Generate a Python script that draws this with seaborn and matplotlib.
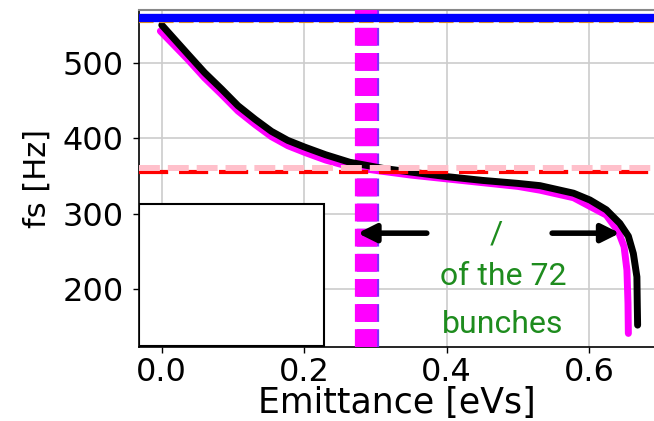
import matplotlib
matplotlib.use("Agg")
import matplotlib.pyplot as plt
from matplotlib.patches import Rectangle
import seaborn as sns
import pandas as pd

# ---- data ----
black_x = [0.0, 0.037, 0.06, 0.084, 0.107, 0.131, 0.154, 0.177, 0.201, 0.23, 0.264, 0.31,
           0.35, 0.4, 0.45, 0.5, 0.531, 0.578, 0.601, 0.624, 0.643, 0.655, 0.662, 0.667, 0.6675, 0.668]
black_y = [550, 511, 487, 465, 443, 425, 409, 397, 388, 378, 368, 360,
           355, 349, 344, 340, 337, 327, 318, 305, 287, 270, 247, 216, 181, 152]
mag_x = [-0.002, 0.037, 0.06, 0.084, 0.107, 0.131, 0.154, 0.177, 0.201, 0.23, 0.264, 0.31,
         0.35, 0.4, 0.45, 0.5, 0.531, 0.578, 0.624, 0.641, 0.649, 0.653, 0.6545, 0.655]
mag_y = [542, 504, 480, 458, 436, 418, 402, 390, 381, 371, 362, 356,
         351, 346, 341, 336, 331, 321, 298, 276, 256, 225, 181, 141]
hline_blue = 560
hline_orange = 556
hline_pink = 361
hline_red = 355
vline_x = 0.2865
arrow_y = 274
arrow_left = (0.372, 0.275)   # tail, head
arrow_right = (0.548, 0.643)  # tail, head
note_lines = ["/", "of the 72", "bunches"]
x_ticks = [0.0, 0.2, 0.4, 0.6]
y_ticks = [200, 300, 400, 500]

sns.set_theme(style="whitegrid")
plt.rcParams['font.family'] = ['DejaVu Sans']
plt.rcParams['text.color'] = 'black'
plt.rcParams['axes.labelcolor'] = 'black'
plt.rcParams['xtick.color'] = 'black'
plt.rcParams['ytick.color'] = 'black'

fig = plt.figure(figsize=(6.54, 4.21), dpi=100)
ax = fig.add_axes([139/654, 74/421, 515/654, 337/421])

ax.set_xlim(-0.032, 0.691)
ax.set_ylim(123, 570)

# vertical reference line
ax.axvline(vline_x + 0.003, color='#7b2fff', lw=16, dashes=(0.8, 0.33), zorder=4)
ax.axvline(vline_x, color='#ff00ff', lw=16, dashes=(0.8, 0.33), zorder=4)

df_m = pd.DataFrame({"x": mag_x, "y": mag_y})
df_b = pd.DataFrame({"x": black_x, "y": black_y})
sns.lineplot(data=df_m, x="x", y="y", ax=ax, color='#ff00ff', lw=5, sort=False,
             estimator=None, zorder=6)
sns.lineplot(data=df_b, x="x", y="y", ax=ax, color='black', lw=5, sort=False,
             estimator=None, zorder=7)

# horizontal reference lines (drawn on top)
ax.axhline(hline_orange, color='#ffa500', lw=3, dashes=(3.5, 1.3), zorder=8)
ax.axhline(hline_blue, color='#0000ff', lw=6, zorder=9)
ax.axhline(hline_red, color='#ff0000', lw=3, dashes=(7, 2.6), zorder=8)
ax.axhline(hline_pink, color='#ffc0cb', lw=4.3, dashes=(3.5, 1.33), zorder=8.5)

# arrows
for tail, head in (arrow_left, arrow_right):
    ax.annotate("", xy=(head, arrow_y), xytext=(tail, arrow_y),
                arrowprops=dict(arrowstyle="-|>,head_length=0.9,head_width=0.45",
                                lw=4, color='black', shrinkA=0, shrinkB=0),
                zorder=9)

fam = ['Roboto', 'DejaVu Sans']
green = '#1e8c1e'
ax.text(0.470, 261, note_lines[0], color=green, fontsize=23, ha='center', va='baseline', family=fam, zorder=9)
ax.text(0.480, 205, note_lines[1], color=green, fontsize=23, ha='center', va='baseline', family=fam, zorder=9)
ax.text(0.478, 141, note_lines[2], color=green, fontsize=23, ha='center', va='baseline', family=fam, zorder=9)

# empty legend-like box
ax.add_patch(Rectangle((0.0, 0.004), 0.36, 0.42, transform=ax.transAxes,
                       facecolor='white', edgecolor='black', lw=1.5, zorder=10))

ax.set_xticks(x_ticks)
ax.set_yticks(y_ticks)
ax.set_xticklabels([f"{v:.1f}" for v in x_ticks])
ax.set_yticklabels([str(v) for v in y_ticks])
ax.tick_params(axis='both', labelsize=23, length=4, width=1, colors='black', direction='out',
               left=True, bottom=True)
ax.tick_params(axis='y', pad=7)
ax.tick_params(axis='x', pad=3)
ax.grid(True, color='#cccccc', lw=1.2)
ax.set_xlabel("Emittance [eVs]", fontsize=25, labelpad=-1, color='black')
ax.set_ylabel("fs [Hz]", fontsize=22, labelpad=8, color='black')

for s in ['left', 'bottom']:
    ax.spines[s].set_color('black')
    ax.spines[s].set_linewidth(1.2)
ax.spines['top'].set_color('#888888')
ax.spines['top'].set_linewidth(1.5)
ax.spines['right'].set_visible(False)

fig.savefig("out.png", dpi=100)
